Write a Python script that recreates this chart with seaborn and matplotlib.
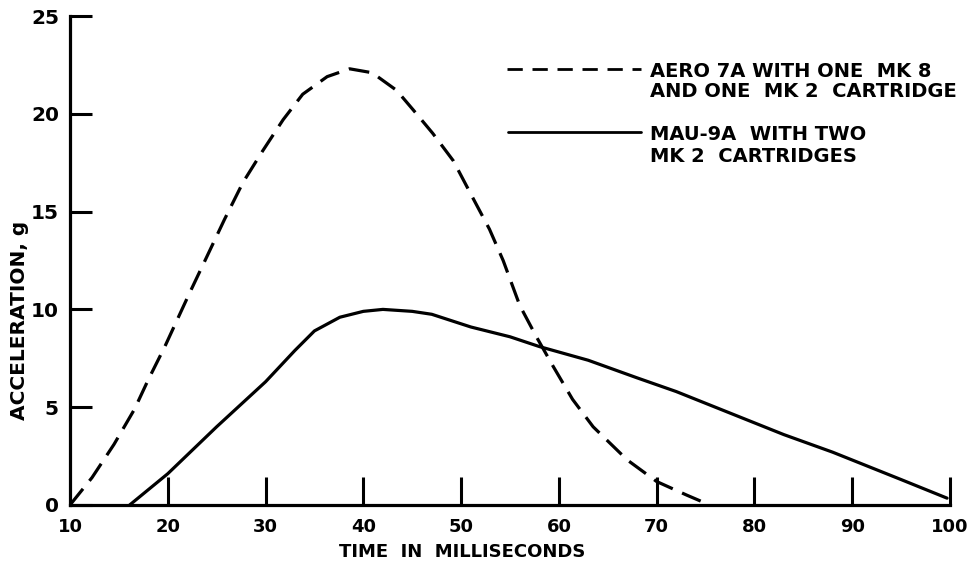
import matplotlib
matplotlib.use("Agg")
import matplotlib.pyplot as plt
import seaborn as sns
import pandas as pd
from matplotlib.lines import Line2D

# Acceleration pulse, AERO 7A with one MK 8 and one MK 2 cartridge (dashed)
aero_time_ms = [10, 12.25, 14.5, 16.6, 18, 19.7, 22.1, 24, 25.8, 27.7, 29.7, 31.8,
                33.8, 36.3, 38.6, 40.9, 43.4, 45.1, 47.1, 49.2, 51.2, 52.9, 54.3,
                56, 57.7, 59.4, 61.4, 63.5, 67, 70, 73.1, 74.5]
aero_accel_g = [0, 1.4, 3.1, 4.9, 6.4, 8.1, 10.7, 12.7, 14.6, 16.5, 18.1, 19.7,
                21.0, 21.9, 22.3, 22.1, 21.2, 20.2, 19.0, 17.6, 15.7, 14.1, 12.5,
                10.2, 8.6, 7.1, 5.4, 4.0, 2.3, 1.2, 0.5, 0.2]

# Acceleration pulse, MAU-9A with two MK 2 cartridges (solid)
mau_time_ms = [16.1, 20, 25, 30, 33, 35, 37.6, 40, 42, 45, 47, 51, 55, 58, 63,
               68, 72, 76, 80, 83, 88, 90, 95, 99.7]
mau_accel_g = [0, 1.6, 4.0, 6.3, 7.9, 8.9, 9.6, 9.9, 10.0, 9.9, 9.75, 9.1, 8.6,
               8.1, 7.4, 6.5, 5.8, 5.0, 4.2, 3.6, 2.7, 2.3, 1.3, 0.35]

x_ticks = [10, 20, 30, 40, 50, 60, 70, 80, 90, 100]
y_ticks = [0, 5, 10, 15, 20, 25]

aero_label = ["AERO 7A WITH ONE  MK 8", "AND ONE  MK 2  CARTRIDGE"]
mau_label = ["MAU-9A  WITH TWO", "MK 2  CARTRIDGES"]

sns.set_style("white")
plt.rcParams["font.family"] = ["DejaVu Sans"]
plt.rcParams["font.weight"] = "bold"
plt.rcParams["text.color"] = "black"
plt.rcParams["axes.labelcolor"] = "black"

aero = pd.DataFrame({"t": aero_time_ms, "g": aero_accel_g})
mau = pd.DataFrame({"t": mau_time_ms, "g": mau_accel_g})

fig = plt.figure(figsize=(9.77, 5.62), dpi=100)
ax = fig.add_axes([70 / 977, 1 - 505 / 562, 880 / 977, 489 / 562])

dash = (0, (6.5, 3.2))
lw = 2.3
sns.lineplot(data=aero, x="t", y="g", ax=ax, color="black", lw=lw,
             linestyle=dash, sort=False, estimator=None)
sns.lineplot(data=mau, x="t", y="g", ax=ax, color="black", lw=lw,
             sort=False, estimator=None)

ax.set_xlim(10, 100)
ax.set_ylim(0, 25)
ax.set_xticks(x_ticks)
ax.set_yticks(y_ticks)
ax.set_xticklabels([str(v) for v in x_ticks], fontsize=13, fontweight="bold")
ax.set_yticklabels([str(v) for v in y_ticks], fontsize=14.5, fontweight="bold")

for side in ("top", "right"):
    ax.spines[side].set_visible(False)
for side in ("left", "bottom"):
    ax.spines[side].set_linewidth(2.3)
    ax.spines[side].set_color("black")

ax.tick_params(axis="x", bottom=True, direction="in", length=20, width=2.2, pad=9,
               color="black", labelcolor="black")
ax.tick_params(axis="y", left=True, direction="in", length=16, width=2.2, pad=8,
               color="black", labelcolor="black")
ax.xaxis.get_major_ticks()[0].tick1line.set_visible(False)

ax.set_xlabel("TIME  IN  MILLISECONDS", fontsize=13, fontweight="bold")
ax.set_ylabel("ACCELERATION, g", fontsize=14.5, fontweight="bold")
ax.xaxis.set_label_coords((462 - 70) / 880, (505 - 543) / 489)
ax.yaxis.set_label_coords((29 - 70) / 880, (505 - 320) / 489)

# key in the upper right
W, H = 977, 562
fig.add_artist(Line2D([507 / W, 641 / W], [1 - 69 / H, 1 - 69 / H], color="black",
                      lw=2.0, linestyle=(0, (5.5, 3.5))))
fig.add_artist(Line2D([508 / W, 641 / W], [1 - 132 / H, 1 - 132 / H], color="black",
                      lw=2.0))
for text, base in zip(aero_label + mau_label, [77, 97, 140, 162]):
    fig.text(650 / W, 1 - base / H, text, fontsize=14, fontweight="bold",
             ha="left", va="baseline", color="black")

fig.savefig("out.png", dpi=100)
